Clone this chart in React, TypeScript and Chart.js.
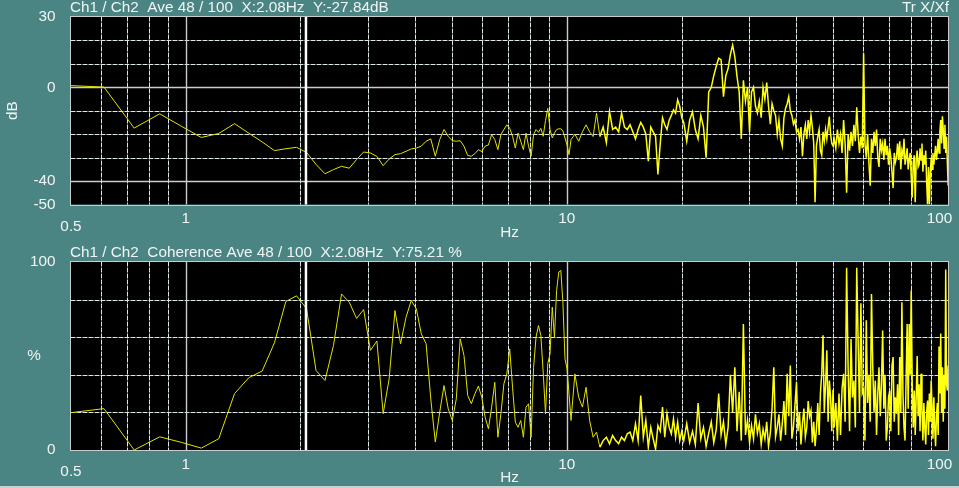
import React, { useEffect, useRef } from 'react';
import { Chart, registerables } from 'chart.js';

Chart.register(...registerables);

// ---- data ----
const DF = 0.12207; // frequency resolution (Hz per bin)

// Transfer function (dB): segments given as [startBin, step]
const TF_A_START = 4; const TF_A_STEP = 1;
const tfA = [
  0.8, 0.1, -17.4, -11.3, -16.7, -21.4, -19.7, -15.5, -19.6, -23.3,
  -27.0, -26.2, -25.6, -27.8, -32.9, -36.9, -35.1, -33.7, -34.5, -30.8,
  -27.6, -28, -29.5, -33.4, -30.6, -28.7, -28.3, -27.3, -26.3, -25.9,
  -25.1, -23, -22, -29.4, -22.3, -18, -20.9, -22.8, -23, -22.8,
  -25.1, -29.1, -29.4, -28.3, -26.6, -27.4, -25.1, -24.6, -20.2, -22.3,
  -26.6, -20.2, -18, -16, -17.5, -20.9, -25.9, -19.5, -23, -26.6,
  -19.5, -25.1, -29.4, -20.2, -18, -19.2, -17.5, -20.9, -14.2, -9,
  -18, -21.6, -19.5, -18, -17.7, -17.7, -18.7, -21.6, -24.6, -28.7,
  -22.3,
];
const TF_B_START = 86; const TF_B_STEP = 2;
const tfB = [
  -20, -23, -19, -16, -19, -21, -11, -21, -17, -23.6,
  -10.3, -18, -17, -19, -11, -17, -18, -16, -19, -22,
  -18, -15, -17, -20, -31.5, -17, -19, -21, -37.2, -24,
  -13, -16, -18, -14, -12, -9.6, -11, -5.3, -8, -13,
];
const TF_C_START = 166; const TF_C_STEP = 3;
const tfC = [
  -15, -23, -14, -10.5, -18, -22, -12, -17, -30, -2,
  0, 5, 9, 12.4, 11.7, -4, 5, 8, 14, 18,
  13, 4.6, -2, -22, 3, -6, 0, -19, -2, 0,
  -8, -11, -6, -13, 0, -5, 2, -8, -15.7, -7,
  -10, -12, -20, -14, -22, -25, -13, -9, -7, -4,
  -10, -12, -15.7, -14, -19, -18, -22, -17, -29.4, -20,
  -16, -22, -14, -19, -12, -17, -24, -49, -25, -21,
  -18, -27, -29, -19, -23, -18, -22, -17, -12.5, -20,
  -24, -25,
];
const TF_D_START = 412; const TF_D_STEP = 4;
const tfD = [
  -22, -26, -18, -24, -20, -28, -14, -24, -45, -20,
  -27, -19, -25, -16, -23, -8.5, -20, -28, -21, -26,
  14.5, -24, -30, -20, -32, -42, -22, -28, -19, -25,
  -18, -30, -34, -22, -27, -24, -31, -22, -29, -25,
  -33, -26, -30, -36, -43, -28, -32, -30, -24, -31,
  -23, -35, -27, -29, -22, -33, -30, -26, -35, -31,
  -28, -38, -47, -32, -29, -49, -31, -27, -34, -33,
  -26, -31, -24, -36, -29, -33, -27, -40, -50, -34,
  -50, -37, -30, -35, -28, -33, -29, -25, -31, -27,
  -22, -28, -19, -14, -24, -12.4, -18, -26, -16, -28,
  -21, -32, -42,
];

// Coherence (%)
const cohA = [
  19.6, 22, 0, 7, 4, 1, 6, 30, 38.5, 42,
  57, 79, 82, 75.2, 42.3, 37, 55.6, 83, 78.6, 70,
  74.7, 53, 58, 19.3, 37.9, 74.2, 56.5, 70.6, 79.5, 75,
  61.8, 56.5, 27.2, 4.2, 20.1, 34.3, 21.9, 15.7, 27.2, 59.1,
  50.3, 29, 24.6, 29.9, 34, 28, 17.4, 11.3, 22.8, 36,
  6.8, 19.3, 35.2, 40.5, 53.8, 33.4, 14.8, 12.1, 15.7, 6.8,
  22.8, 24.6, 6.8, 44, 60, 66.2, 61, 41.4, 19.3, 45.9,
  51.2, 76, 60, 84.8, 94.6, 95.5, 77.8, 48.5, 43.2, 29.9,
  15.7,
];
const cohB = [
  40.5, 28, 22.8, 33.4, 15.7, 6.8, 9.5, 1.5, 5, 6.8,
  3.3, 7.7, 5, 3.4, 6.8, 5, 8.6, 9.5, 5, 13.9,
  5, 29, 6.8, 15.7, 1.5, 12, 6, 0.5, 13, 10,
  22.8, 6.8, 19.3, 12, 8.6, 16.6, 6.8, 14.8, 5, 10,
];
const cohC = [
  5, 14, 4, 10, 3, 25, 6, 12, 2, 9,
  15, 4, 11, 30, 8, 15, 3, 12, 40, 20,
  44, 10, 31, 5, 67, 8, 16, 4, 13, 6,
  19, 9, 14, 3, 11, 6, 15, 2, 9, 22,
  44, 7, 12, 19, 5, 14, 26, 8, 40.5, 18,
  45, 6, 12, 24, 36, 10, 20, 3, 14, 22,
  7, 12, 26, 18, 21, 4, 15, 2, 11, 25,
  8, 30, 40.5, 61, 20, 35, 53, 15, 37, 28,
  10, 32,
];
const cohD = [
  12, 25, 5, 30, 8, 33, 40.5, 15, 97, 44,
  10, 59, 28, 37, 12, 97, 58, 20, 78, 30,
  32, 5, 69, 25, 40, 15, 83, 44, 20, 37,
  8, 30, 44, 18, 35, 63.6, 22, 40, 5, 12,
  28, 31.6, 10, 45, 49.4, 15, 28, 19.3, 35, 8,
  49.4, 20, 78.6, 30, 12, 5, 38, 67, 22, 67,
  40, 85, 35, 12, 31.6, 8, 28, 50, 18, 35,
  10, 40.5, 22, 5, 25, 12, 3, 20, 26.3, 8,
  30, 15, 37, 22, 6, 28, 12, 2, 18, 25,
  8, 55, 30, 62, 20, 44, 15, 40, 22, 96,
  35, 31.6, 45,
];

const X_TICKS = [0.5, 1, 10, 100];
const X_TICK_LABELS = ['0.5', '1', '10', '100'];
const X_MINOR = [0.6, 0.7, 0.8, 0.9, 2, 3, 4, 5, 6, 7, 8, 9, 20, 30, 40, 50, 60, 70, 80, 90];
const X_MAJOR = [1, 10];

const TF_Y_TICKS = [30, 0, -40, -50];
const TF_Y_DASHED = [20, 10, -10, -20, -30];
const TF_Y_SOLID = [0, -40];
const COH_Y_TICKS = [100, 0];
const COH_Y_DASHED = [20, 40, 60, 80];

const CURSOR_HZ = 2.08;
const TITLE_TF = 'Ch1 / Ch2  Ave 48 / 100  X:2.08Hz  Y:-27.84dB';
const TITLE_COH = 'Ch1 / Ch2  Coherence Ave 48 / 100  X:2.08Hz  Y:75.21 %';
const RIGHT_TF = 'Tr X/Xf';

// ---- styles ----
const TEAL = '#4b8583';
const TEXT = '#f0f4f4';
const FONT_FAMILY = '"Liberation Sans", Arial, sans-serif';
const FONT_SIZE = 15.3;
const LINE_LOW = '#e2e200';
const LINE_HIGH = '#ffff10';
const DENSE_FROM_HZ = 12;

function seg(start: number, step: number, vals: number[]) {
  return vals.map((v, i) => ({ x: (start + i * step) * DF, y: v }));
}

const tfPoints = [
  ...seg(TF_A_START, TF_A_STEP, tfA),
  ...seg(TF_B_START, TF_B_STEP, tfB),
  ...seg(TF_C_START, TF_C_STEP, tfC),
  ...seg(TF_D_START, TF_D_STEP, tfD),
];
const cohPoints = [
  ...seg(TF_A_START, TF_A_STEP, cohA),
  ...seg(TF_B_START, TF_B_STEP, cohB),
  ...seg(TF_C_START, TF_C_STEP, cohC),
  ...seg(TF_D_START, TF_D_STEP, cohD),
];

const panelPlugin = {
  id: 'panel',
  beforeDraw(chart: any) {
    const { ctx, chartArea: a } = chart;
    ctx.save();
    ctx.fillStyle = '#000';
    ctx.fillRect(a.left, a.top, a.right - a.left, a.bottom - a.top);
    ctx.restore();
  },
  beforeDatasetsDraw(chart: any, _args: any, opts: any) {
    const { ctx, chartArea: a, scales } = chart;
    const xs = scales.x; const ys = scales.y;
    ctx.save();
    const snap = (p: number) => Math.round(p) + 0.5;
    const seg2 = (x1: number, y1: number, x2: number, y2: number) => {
      ctx.beginPath(); ctx.moveTo(x1, y1); ctx.lineTo(x2, y2); ctx.stroke();
    };
    const dashed = (x1: number, y1: number, x2: number, y2: number) => {
      ctx.lineWidth = 1;
      ctx.setLineDash([]);
      ctx.strokeStyle = '#64706f';
      seg2(x1, y1, x2, y2);
      ctx.setLineDash([4, 2]);
      ctx.strokeStyle = '#dfe6e6';
      seg2(x1, y1, x2, y2);
      ctx.setLineDash([]);
    };
    const solid = (x1: number, y1: number, x2: number, y2: number) => {
      ctx.lineWidth = 1.4;
      ctx.setLineDash([]);
      ctx.strokeStyle = '#c8cccc';
      seg2(x1, y1, x2, y2);
    };
    X_MINOR.forEach((v) => { const p = snap(xs.getPixelForValue(v)); dashed(p, a.top, p, a.bottom); });
    (opts.yDashed || []).forEach((v: number) => { const p = snap(ys.getPixelForValue(v)); dashed(a.left, p, a.right, p); });
    X_MAJOR.forEach((v) => { const p = snap(xs.getPixelForValue(v)); solid(p, a.top, p, a.bottom); });
    (opts.ySolid || []).forEach((v: number) => { const p = snap(ys.getPixelForValue(v)); solid(a.left, p, a.right, p); });
    ctx.restore();
  },
  afterDatasetsDraw(chart: any, _args: any, opts: any) {
    const { ctx, chartArea: a, scales } = chart;
    ctx.save();
    const cx = scales.x.getPixelForValue(CURSOR_HZ) - 1;
    ctx.strokeStyle = '#ffffff';
    ctx.lineWidth = 2.5;
    ctx.beginPath(); ctx.moveTo(cx, a.top); ctx.lineTo(cx, a.bottom); ctx.stroke();
    ctx.strokeStyle = '#c8cccc';
    ctx.lineWidth = 1;
    ctx.strokeRect(Math.round(a.left) - 0.5, Math.round(a.top) - 0.5, Math.round(a.right - a.left) + 1, Math.round(a.bottom - a.top) + 1);
    ctx.fillStyle = TEXT;
    ctx.font = `${FONT_SIZE}px ${FONT_FAMILY}`;
    ctx.textBaseline = 'middle';
    ctx.textAlign = 'left';
    if (opts.title) ctx.fillText(opts.title, a.left - 1, a.top - 9);
    ctx.textAlign = 'right';
    if (opts.right) ctx.fillText(opts.right, a.right + 1, a.top - 9);
    if (opts.sideLabel) {
      ctx.textAlign = 'center';
      ctx.fillText(opts.sideLabel, 34, (a.top + a.bottom) / 2);
    }
    ctx.restore();
  },
};

function makeConfig(points: any[], yMin: number, yMax: number, yTicks: number[], opts: any) {
  const font = { family: FONT_FAMILY, size: FONT_SIZE };
  return {
    type: 'line' as const,
    data: {
      datasets: [{
        data: points,
        borderColor: LINE_HIGH,
        borderWidth: 1,
        pointRadius: 0,
        tension: 0,
        fill: false,
        segment: {
          borderWidth: (c: any) => (c.p0.parsed.x >= DENSE_FROM_HZ ? 1.5 : 1),
          borderColor: (c: any) => (c.p0.parsed.x >= DENSE_FROM_HZ ? LINE_HIGH : LINE_LOW),
        },
      }],
    },
    plugins: [panelPlugin],
    options: {
      animation: false as const,
      responsive: false,
      maintainAspectRatio: false,
      events: [],
      layout: { padding: opts.padding },
      plugins: {
        legend: { display: false },
        tooltip: { enabled: false },
        panel: opts.panel,
      },
      scales: {
        x: {
          type: 'logarithmic' as const,
          min: 0.5,
          max: 100,
          grid: { display: false },
          border: { display: false },
          afterBuildTicks: (s: any) => { s.ticks = X_TICKS.map((v) => ({ value: v })); },
          afterFit: (s: any) => { s.height = 35.5; s.paddingLeft = 0; s.paddingRight = 0; },
          ticks: {
            autoSkip: false,
            maxRotation: 0,
            minRotation: 0,
            padding: 2.5,
            color: TEXT,
            font: { ...font, lineHeight: 0.5 },
            callback: (value: any) => {
              const i = X_TICKS.indexOf(Number(value));
              if (i < 0) return '';
              const lab = X_TICK_LABELS[i];
              if (i === 0) return ['', lab];
              if (i === X_TICKS.length - 1) return lab + '    ';
              return lab;
            },
          },
          title: { display: true, text: 'Hz', color: TEXT, font: { ...font, lineHeight: 1 }, padding: { top: 0, bottom: 0 } },
        },
        y: {
          type: 'linear' as const,
          min: yMin,
          max: yMax,
          grid: { display: false },
          border: { display: false },
          afterBuildTicks: (s: any) => { s.ticks = yTicks.map((v) => ({ value: v })); },
          afterFit: (s: any) => { s.width = 71; },
          ticks: {
            autoSkip: false,
            padding: 7.5,
            color: TEXT,
            font,
            callback: (value: any) => String(value),
          },
          title: opts.yTitle
            ? { display: true, text: opts.yTitle, color: TEXT, font: { ...font, lineHeight: 1 }, padding: { top: 5, bottom: 0 } }
            : { display: false },
        },
      },
    },
  };
}

export default function App() {
  const topRef = useRef<HTMLCanvasElement>(null);
  const botRef = useRef<HTMLCanvasElement>(null);

  useEffect(() => {
    document.body.style.margin = '0';
    const c1 = new Chart(topRef.current as HTMLCanvasElement, makeConfig(tfPoints, -50, 30, TF_Y_TICKS, {
      padding: { top: 17, right: 11, bottom: 0, left: 0 },
      yTitle: 'dB',
      panel: { title: TITLE_TF, right: RIGHT_TF, yDashed: TF_Y_DASHED, ySolid: TF_Y_SOLID },
    }) as any);
    const c2 = new Chart(botRef.current as HTMLCanvasElement, makeConfig(cohPoints, 0, 100, COH_Y_TICKS, {
      padding: { top: 22, right: 11, bottom: 2.5, left: 0 },
      yTitle: null,
      panel: { title: TITLE_COH, yDashed: COH_Y_DASHED, ySolid: [], sideLabel: '%' },
    }) as any);
    return () => { c1.destroy(); c2.destroy(); };
  }, []);

  return (
    <div style={{ position: 'fixed', left: 0, top: 0, width: 959, height: 488, background: TEAL, overflow: 'hidden' }}>
      <canvas ref={topRef} width={959} height={240} style={{ position: 'absolute', left: 0, top: 0, width: 959, height: 240 }} />
      <canvas ref={botRef} width={959} height={248} style={{ position: 'absolute', left: 0, top: 240, width: 959, height: 248 }} />
      <div style={{ position: 'absolute', left: 0, top: 486, width: 959, height: 2, background: '#c9d2d2' }} />
    </div>
  );
}
